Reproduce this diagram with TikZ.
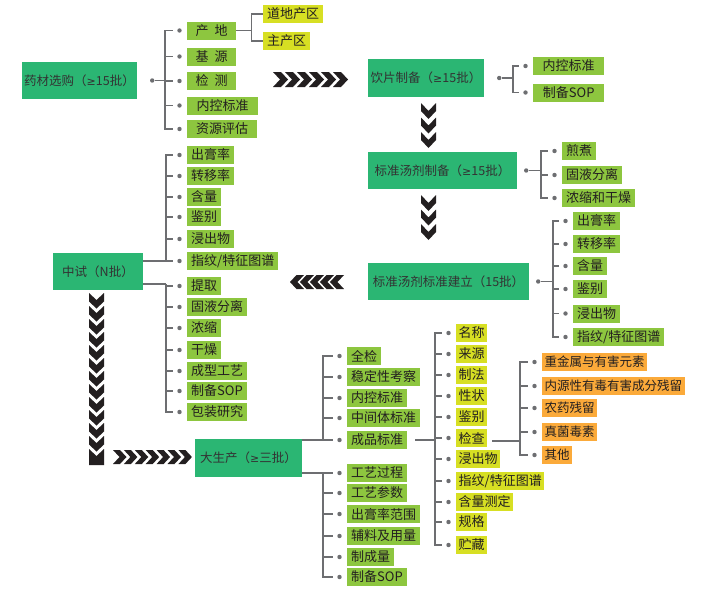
\documentclass[tikz,border=0pt]{standalone}
\usepackage{fontspec}
\setmainfont{Noto Sans CJK SC}
\newfontfamily\symf{DejaVu Sans}
\newcommand{\mgeq}{{\symf\fontsize{11}{13}\selectfont ≥}}
\definecolor{mgreen}{HTML}{2BB673}
\definecolor{lgreen}{HTML}{8DC63F}
\definecolor{ylw}{HTML}{D7DF23}
\definecolor{org}{HTML}{FBAA3A}
\definecolor{txt}{HTML}{333333}
\definecolor{itxt}{HTML}{231F20}
\definecolor{lnc}{HTML}{6D6E71}
\definecolor{chev}{HTML}{231F20}
\begin{document}
\begin{tikzpicture}[x=1pt,y=-1pt,
  mainbox/.style={fill=mgreen,text=txt,inner sep=0pt,font=\fontsize{12.5}{14}\selectfont},
  item/.style={fill=lgreen,text=itxt,anchor=west,inner xsep=4pt,inner ysep=0pt,minimum height=18pt,font=\fontsize{13}{15}\selectfont},
  yitem/.style={item,fill=ylw,inner xsep=2.5pt},
  oitem/.style={item,fill=org,inner xsep=2.5pt,font=\fontsize{12.5}{15}\selectfont},
  dot/.style={circle,fill=lnc,inner sep=0pt,minimum size=4.4pt},
  conn/.style={draw=lnc,line width=1.6pt},
  chevf/.style={fill=chev}]
\fill[white] (0,0) rectangle (711,603);
\useasboundingbox (0,0) rectangle (711,603);

% ---------- main boxes ----------
\node[mainbox,minimum width=115pt,minimum height=37pt] (ycx) at (79.5,80.5) {药材选购（\mgeq 15批）};
\node[mainbox,minimum width=116pt,minimum height=38pt] (yp) at (426,78) {饮片制备（\mgeq 15批）};
\node[mainbox,minimum width=149pt,minimum height=37pt] (bzz) at (442.5,170.5) {标准汤剂制备（\mgeq 15批）};
\node[mainbox,minimum width=161pt,minimum height=37pt] (bzj) at (448.5,281.5) {标准汤剂标准建立（15批）};
\node[mainbox,minimum width=90pt,minimum height=37pt] (zs) at (98,271.5) {中试（N批）};
\node[mainbox,minimum width=107pt,minimum height=38pt] (dsc) at (248.5,458) {大生产（\mgeq 三批）};

% ---------- group A ----------
\node[item,minimum width=49pt] (a1) at (187,30.5) {产\hspace{6pt}地};
\node[item,minimum width=49pt] (a2) at (187,56.5) {基\hspace{6pt}源};
\node[item,minimum width=49pt] (a3) at (187,81) {检\hspace{6pt}测};
\node[item,minimum width=71pt] (a4) at (187,105.5) {内控标准};
\node[item,minimum width=70pt] (a5) at (187,129) {资源评估};
\node[yitem,minimum width=60pt] (a11) at (263,14) {道地产区};
\node[yitem,minimum width=47pt] (a12) at (263,41) {主产区};

\node[dot] (pA) at ([xshift=15pt]ycx.east) {};
\coordinate (vA) at ([xshift=28pt]ycx.east);
\draw[conn] (pA) -- (vA);
\coordinate (vA1) at ([xshift=15pt]a1.east);
\draw[conn] (a1.east) -- (vA1);
\draw[conn] (vA1) |- (a11.west);
\draw[conn] (vA1) |- (a12.west);

% ---------- group B ----------
\node[item,minimum width=71pt] (b1) at (533,66) {内控标准};
\node[item,minimum width=71pt] (b2) at (533,92.5) {制备SOP};
\node[dot] (pB) at ([xshift=15pt]yp.east) {};
\coordinate (vB) at ([xshift=29pt]yp.east);
\draw[conn] (pB) -- (vB);

% ---------- group C ----------
\node[item] (c1) at (562,151) {煎煮};
\node[item] (c2) at (562,175) {固液分离};
\node[item] (c3) at (562,198) {浓缩和干燥};
\node[dot] (pC) at ([xshift=9pt]bzz.east) {};
\coordinate (vC) at ([xshift=24pt]bzz.east);
\draw[conn] (pC) -- (vC);

% ---------- group D ----------
\node[item] (d1) at (573,221) {出膏率};
\node[item] (d2) at (573,244) {转移率};
\node[item] (d3) at (573,266) {含量};
\node[item] (d4) at (573,289) {鉴别};
\node[item] (d5) at (573,313.5) {浸出物};
\node[item] (d6) at (573,337) {指纹/特征图谱};
\node[dot] (pD) at ([xshift=9pt]bzj.east) {};
\coordinate (vD) at ([xshift=24pt]bzj.east);
\draw[conn] (pD) -- (vD);

% ---------- group E ----------
\node[item] (e1) at (187,155) {出膏率};
\node[item] (e2) at (187,176) {转移率};
\node[item] (e3) at (187,197) {含量};
\node[item] (e4) at (187,217) {鉴别};
\node[item] (e5) at (187,239) {浸出物};
\node[item] (e6) at (187,261) {指纹/特征图谱};
\node[item] (e7) at (187,286) {提取};
\node[item] (e8) at (187,307) {固液分离};
\node[item] (e9) at (187,328) {浓缩};
\node[item] (e10) at (187,350) {干燥};
\node[item] (e11) at (187,371) {成型工艺};
\node[item] (e12) at (187,391) {制备SOP};
\node[item] (e13) at (187,412) {包装研究};
\coordinate (vEU) at (166,261);
\coordinate (vEL) at (166,284);
\draw[conn] (zs.east |- vEU) -- (vEU);
\draw[conn] (zs.east |- vEL) -- (vEL);

% ---------- group F ----------
\node[item] (f1) at (347,356) {全检};
\node[item] (f2) at (347,377) {稳定性考察};
\node[item] (f3) at (347,398) {内控标准};
\node[item] (f4) at (347,418) {中间体标准};
\node[item] (f5) at (347,440) {成品标准};
\node[item] (f6) at (347,473) {工艺过程};
\node[item] (f7) at (347,493) {工艺参数};
\node[item] (f8) at (347,514) {出膏率范围};
\node[item] (f9) at (347,536) {辅料及用量};
\node[item] (f10) at (347,557) {制成量};
\node[item] (f11) at (347,577) {制备SOP};
\coordinate (vFU) at (323,440);
\coordinate (vFL) at (323,473);
\draw[conn] (dsc.east |- vFU) -- (vFU);
\draw[conn] (dsc.east |- vFL) -- (vFL);

% ---------- group G ----------
\node[yitem] (g1) at (456,333) {名称};
\node[yitem] (g2) at (456,354) {来源};
\node[yitem] (g3) at (456,375) {制法};
\node[yitem] (g4) at (456,396) {性状};
\node[yitem] (g5) at (456,417) {鉴别};
\node[yitem] (g6) at (456,438) {检查};
\node[yitem] (g7) at (456,459) {浸出物};
\node[yitem] (g8) at (456,481) {指纹/特征图谱};
\node[yitem] (g9) at (456,502) {含量测定};
\node[yitem] (g10) at (456,522) {规格};
\node[yitem] (g11) at (456,545) {贮藏};
\coordinate (gS) at ([xshift=8pt]f5.east);
\coordinate (vG) at (435,440);
\draw[conn] (gS) -- (vG);

% ---------- group H ----------
\node[oitem] (h1) at (542,362) {重金属与有害元素};
\node[oitem] (h2) at (542,386) {内源性有毒有害成分残留};
\node[oitem] (h3) at (542,408) {农药残留};
\node[oitem] (h4) at (542,432) {真菌毒素};
\node[oitem] (h5) at (542,455) {其他};
\coordinate (hS) at ([xshift=5pt,yshift=-3pt]g6.east);
\coordinate (vH) at (520,441);
\draw[conn] (hS) -- (vH);

% ---------- branches ----------
\foreach \v/\list in {vA/{a1,a2,a3,a4,a5}, vB/{b1,b2}, vC/{c1,c2,c3},
    vD/{d1,d2,d3,d4,d5,d6}, vEU/{e1,e2,e3,e4,e5,e6}, vEL/{e7,e8,e9,e10,e11,e12,e13},
    vFU/{f1,f2,f3,f4,f5}, vFL/{f6,f7,f8,f9,f10,f11},
    vG/{g1,g2,g3,g4,g5,g6,g7,g8,g9,g10,g11}, vH/{h1,h2,h3,h4,h5}} {
  \foreach \c in \list {
    \node[dot] (dot-\c) at ([xshift=-7.5pt]\c.west) {};
    \coordinate (tk-\c) at ([xshift=-14pt]\c.west);
    \draw[conn] (\v) |- (tk-\c);
  }
}

% ---------- chevrons ----------
% right, top
\foreach \k in {0,...,5}
  \fill[chevf] ({273+12*\k},72) -- ++(8,0) -- ++(7,7.5) -- ++(-7,7.5) -- ++(-8,0) -- ++(7,-7.5) -- cycle;
% left
\foreach \k in {0,...,4}
  \fill[chevf] ({290+10*\k},282) -- ++(6.5,-7) -- ++(7.5,0) -- ++(-6.5,7) -- ++(6.5,7) -- ++(-7.5,0) -- cycle;
% right, bottom
\foreach \k in {0,...,6}
  \fill[chevf] ({113+10.9*\k},450) -- ++(7,0) -- ++(6.5,7) -- ++(-6.5,7) -- ++(-7,0) -- ++(6.5,-7) -- cycle;
% down, first
\foreach \k in {0,1,2}
  \fill[chevf] (421,{103+14.5*\k}) -- ++(7.5,8) -- ++(7.5,-8) -- ++(0,8) -- ++(-7.5,8) -- ++(-7.5,-8) -- cycle;
% down, second
\foreach \k in {0,1,2}
  \fill[chevf] (421,{195+14.5*\k}) -- ++(7.5,8) -- ++(7.5,-8) -- ++(0,8) -- ++(-7.5,8) -- ++(-7.5,-8) -- cycle;
% down, long
\foreach \k in {0,...,11}
  \fill[chevf] (89,{293+13*\k}) -- ++(7.5,7) -- ++(7.5,-7) -- ++(0,8.5) -- ++(-7.5,7) -- ++(-7.5,-7) -- cycle;
\fill[chevf] (89,449) -- (96.5,456) -- (104,449) -- (104,465) -- (89,465) -- cycle;
\end{tikzpicture}
\end{document}
